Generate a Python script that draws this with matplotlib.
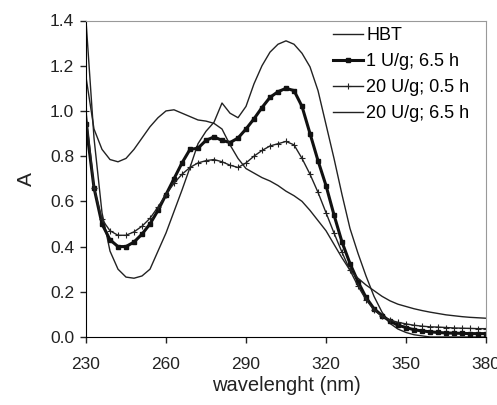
import matplotlib.pyplot as plt

plt.rcParams['font.family'] = ['Liberation Sans', 'DejaVu Sans']

# wavelength grid (nm), read every 3 nm
wl = list(range(230, 381, 3))

# HBT (thin, peak ~1.31)
hbt = [1.40, 0.88, 0.55, 0.38, 0.30, 0.265, 0.26, 0.27, 0.30, 0.38,
       0.46, 0.555, 0.65, 0.75, 0.855, 0.91, 0.95, 1.035, 0.99, 0.97,
       1.02, 1.12, 1.20, 1.26, 1.295, 1.31, 1.295, 1.255, 1.195, 1.09,
       0.94, 0.79, 0.63, 0.48, 0.37, 0.27, 0.18, 0.11, 0.06, 0.035,
       0.02, 0.01, 0.005, 0.0, 0.0, 0.0, 0.0, 0.0, 0.0, 0.0, 0.0]

# 1 U/g; 6.5 h (thick, dots)
u1_65 = [0.94, 0.66, 0.50, 0.43, 0.40, 0.40, 0.42, 0.455, 0.50, 0.56,
         0.63, 0.70, 0.77, 0.83, 0.835, 0.87, 0.885, 0.87, 0.86, 0.88,
         0.92, 0.965, 1.015, 1.06, 1.085, 1.10, 1.09, 1.02, 0.90, 0.78,
         0.67, 0.54, 0.42, 0.325, 0.245, 0.175, 0.125, 0.095, 0.07, 0.052,
         0.042, 0.032, 0.027, 0.023, 0.02, 0.018, 0.017, 0.016, 0.015, 0.015, 0.015]

# 20 U/g; 0.5 h (plus markers)
u20_05 = [1.00, 0.66, 0.52, 0.47, 0.45, 0.45, 0.465, 0.49, 0.525, 0.575,
          0.63, 0.68, 0.72, 0.75, 0.77, 0.78, 0.785, 0.775, 0.76, 0.75,
          0.77, 0.80, 0.825, 0.845, 0.855, 0.865, 0.85, 0.79, 0.72, 0.64,
          0.55, 0.46, 0.375, 0.295, 0.225, 0.165, 0.12, 0.092, 0.075, 0.065,
          0.058, 0.052, 0.048, 0.045, 0.044, 0.042, 0.04, 0.039, 0.038, 0.037, 0.037]

# 20 U/g; 6.5 h (thin, long tail)
u20_65 = [1.15, 0.92, 0.83, 0.785, 0.775, 0.79, 0.83, 0.88, 0.93, 0.97,
          1.00, 1.005, 0.99, 0.975, 0.96, 0.955, 0.945, 0.92, 0.85, 0.79,
          0.745, 0.725, 0.705, 0.69, 0.67, 0.645, 0.625, 0.60, 0.56, 0.515,
          0.47, 0.41, 0.35, 0.295, 0.26, 0.23, 0.205, 0.18, 0.16, 0.145,
          0.135, 0.125, 0.117, 0.11, 0.104, 0.098, 0.094, 0.09, 0.087, 0.085, 0.083]

labels = ['HBT', '1 U/g; 6.5 h', '20 U/g; 0.5 h', '20 U/g; 6.5 h']
xticks = [230, 260, 290, 320, 350, 380]
yticks = [0.0, 0.2, 0.4, 0.6, 0.8, 1.0, 1.2, 1.4]

fig = plt.figure(figsize=(4.97, 4.05), dpi=100)
ax = fig.add_axes([86/497, 1-337/405, 400/497, 316.5/405])

ax.plot(wl, hbt, color='#222222', lw=1.0, label=labels[0])
ax.plot(wl, u1_65, color='#111111', lw=2.2, marker='s', ms=2.2, label=labels[1])
ax.plot(wl, u20_05, color='#222222', lw=1.0, marker='+', ms=5, mew=0.8, label=labels[2])
ax.plot(wl, u20_65, color='#222222', lw=1.0, label=labels[3])

ax.set_xlim(230, 380)
ax.set_ylim(0, 1.4)
ax.set_xticks(xticks)
ax.set_yticks(yticks)
ax.set_yticklabels(['%.1f' % v for v in yticks])
ax.tick_params(direction='out', length=4.5, width=1, labelsize=12.5, colors='#222222')
ax.tick_params(axis='x', pad=10)
ax.tick_params(axis='y', pad=4)
ax.spines['top'].set_color('#999999')
ax.spines['right'].set_color('#999999')
ax.set_xlabel('wavelenght (nm)', fontsize=14.5, color='#222222', labelpad=3)
ax.set_ylabel('A', fontsize=15, color='#222222', labelpad=10)

ax.legend(loc='upper left', bbox_to_anchor=(333/497, 1-27/405), bbox_transform=fig.transFigure,
          frameon=False, fontsize=13, handlelength=1.65, handletextpad=0.2,
          labelspacing=0.5, borderpad=0, borderaxespad=0)

fig.savefig('out.png', dpi=100)
